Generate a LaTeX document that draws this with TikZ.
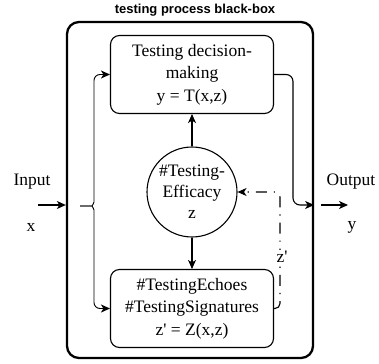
\documentclass[tikz,border=0pt]{standalone}
\usepackage{fontspec}
\setmainfont{Liberation Serif}[Ligatures=TeXOff]
\newfontfamily\titlefont{Liberation Sans}
\usetikzlibrary{arrows.meta,calc}
\begin{document}
\begin{tikzpicture}[x=1pt,y=-1pt,
  conn/.style={line width=1.1pt,-{Stealth[length=9pt,width=8pt,inset=2.5pt]}},
  rbox/.style={draw,line width=1.1pt,rounded corners=9pt,minimum width=163pt,minimum height=78pt,align=center,inner sep=0pt,font=\fontsize{17.5}{22.5}\selectfont},
  lbl/.style={font=\fontsize{17.5}{21}\selectfont,inner sep=1pt}
]
\useasboundingbox (0,0) rectangle (379,363);
\node[font=\titlefont\bfseries\fontsize{13}{15}\selectfont] (title) at (195,10) {testing process black-box};
\node[draw,line width=2.3pt,rounded corners=12pt,minimum width=246pt,minimum height=336pt] (outer) at (190,190) {};
\node[rbox] (top) at (192,74.5) {Testing decision-\\making\\y = T(x,z)};
\node[rbox] (bot) at (192,308.5) {\#TestingEchoes\\\#TestingSignatures\\z' = Z(x,z)};
\node[draw,circle,line width=1.1pt,minimum size=90pt,inner sep=0pt,align=center,font=\fontsize{17.5}{21}\selectfont] (eff) at (192,192) {\#Testing-\\Efficacy\\z};
\draw[conn] (eff.north) -- (top.south);
\draw[conn] (eff.south) -- (bot.north);
% input
\node[lbl] (inlbl) at (32,182) {Input};
\node[lbl] (xlbl) at (31,227) {x};
\coordinate (instart) at (38,205);
\draw[conn] (instart) -- (instart -| outer.west);
% brace
\coordinate (bt) at (80,206);
\draw[conn, line width=0.9pt, rounded corners=6pt] (bt) -- (86,206) .. controls (92,206) and (94,203) .. (94,196) |- (top.west);
\draw[conn, line width=0.9pt, rounded corners=6pt] (bt) -- (86,206) .. controls (92,206) and (94,209) .. (94,216) |- (bot.west);
% output
\coordinate (ob) at (293,205);
\draw[conn, rounded corners=7pt] (top.east) -| (ob) -- (ob -| outer.east);
\coordinate (outstart) at (321,205);
\coordinate (outend) at (348,205);
\draw[conn] (outstart) -- (outend);
\node[lbl] (outlbl) at (351,182) {Output};
\node[lbl] (ylbl) at (352,227) {y};
% feedback
\coordinate (fb) at (280,192);
\draw[conn, dash pattern=on 11pt off 7pt on 1.2pt off 7pt, rounded corners=5pt] (bot.east) -| (fb) -- (eff.east);
\node[lbl,fill=white] (zp) at (282,257) {z'};
\end{tikzpicture}
\end{document}
